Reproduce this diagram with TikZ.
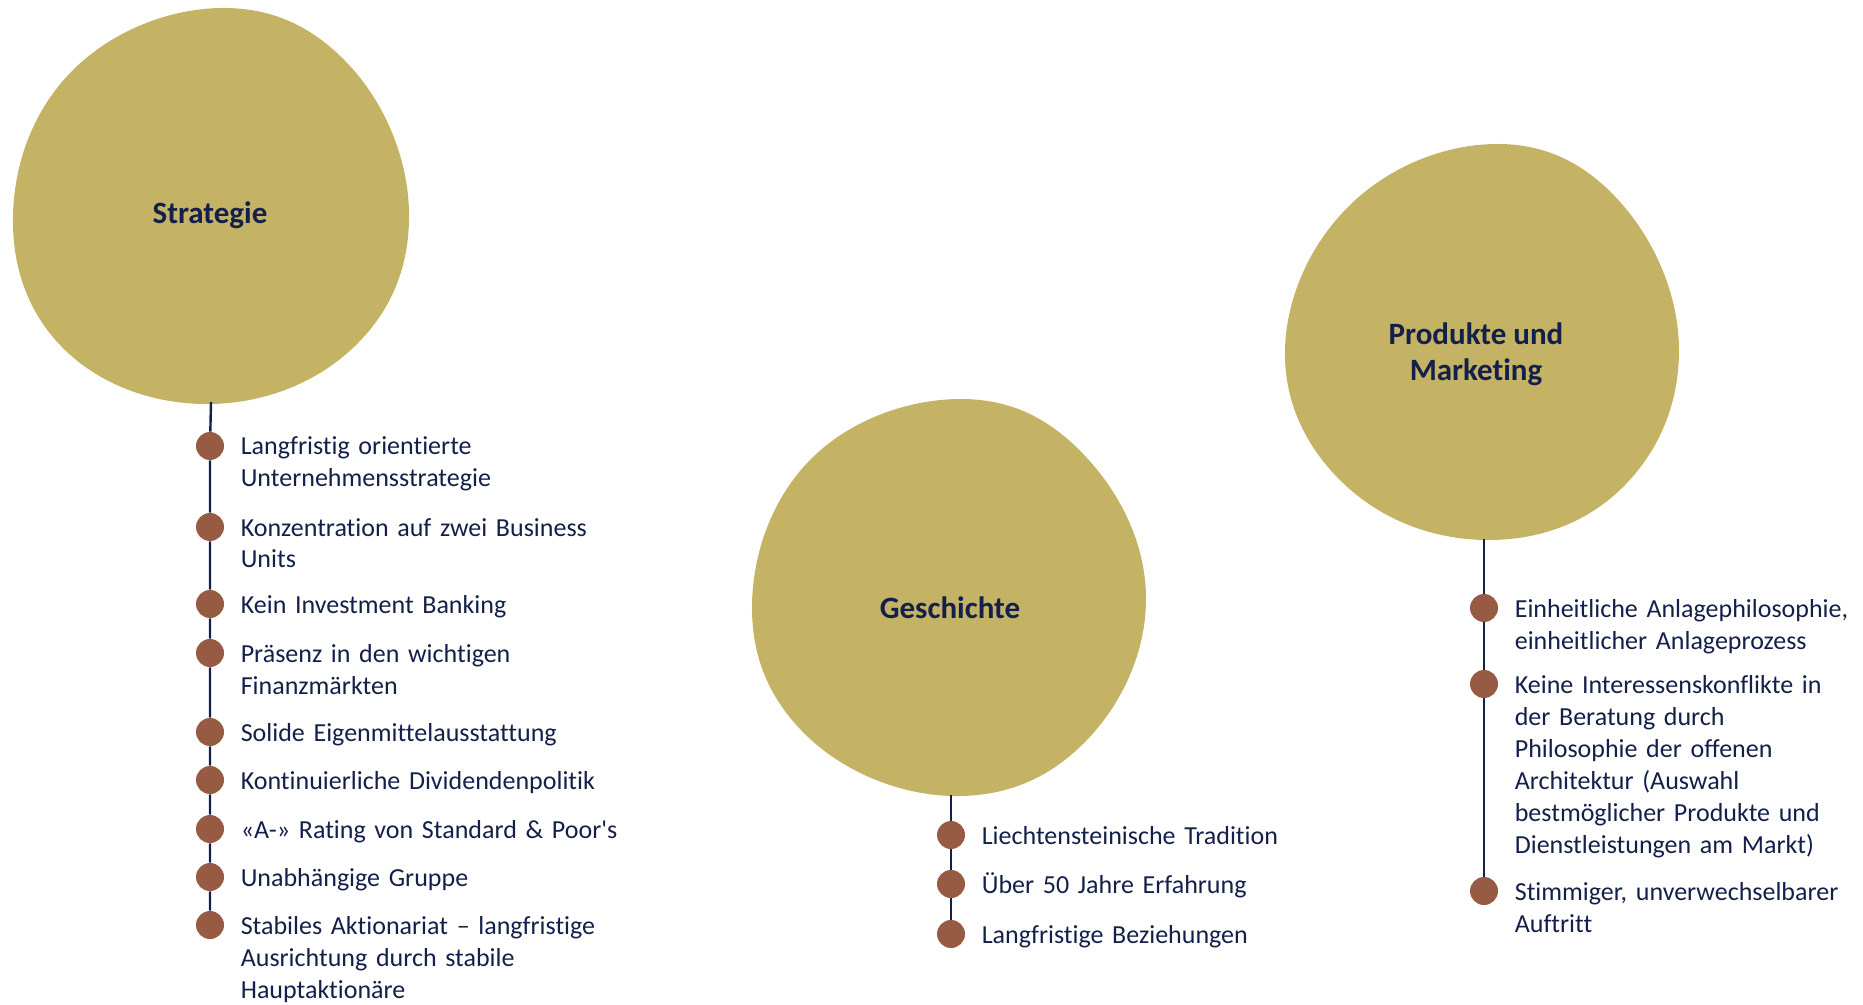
\documentclass[tikz,border=0pt]{standalone}
\usepackage{fontspec}
\setmainfont{Carlito}[Ligatures={TeX,NoCommon}]
\usetikzlibrary{positioning}
\definecolor{goldblob}{HTML}{C4B265}
\definecolor{rustdot}{HTML}{975A43}
\definecolor{navy}{HTML}{14204A}
\tikzset{
    blob/.style = {fill=goldblob, draw=none},
    topic/.style = {font=\fontsize{15.5pt}{18pt}\selectfont\bfseries, text=navy, align=center},
}
\tikzset{
    stem/.style = {draw=navy, line width=1.2pt},
    dot/.style = {circle, fill=rustdot, minimum size=14pt, inner sep=0pt},
    entry/.style = {font=\fontsize{13pt}{16pt}\selectfont, text=navy, text width=230pt,
        align=left, inner sep=0pt, right=8pt of #1, anchor=base west, yshift=-4.5pt},
}

\begin{document}
\begin{tikzpicture}[x=0.5pt, y=-0.5pt]
            \useasboundingbox (0, 0) rectangle (1863, 1005);

            % Strategie
            \fill[blob] plot[smooth cycle, tension=0.68] coordinates {(221, 8) (350, 66) (409, 212)
                (355, 346) (211, 404) (66, 351) (13, 215) (73, 70)};
            \node[topic] (S) at (210, 215) {Strategie};
            \coordinate (S bot) at (211, 402);

            \node[dot] (s1) at (210, 446) {};
            \node[dot] (s2) at (210, 527) {};
            \node[dot] (s3) at (210, 604) {};
            \node[dot] (s4) at (210, 653) {};
            \node[dot] (s5) at (210, 732) {};
            \node[dot] (s6) at (210, 780) {};
            \node[dot] (s7) at (210, 829) {};
            \node[dot] (s8) at (210, 877) {};
            \node[dot] (s9) at (210, 925) {};

            \draw[stem] (S bot) -- (s1) -- (s2) -- (s3) -- (s4) -- (s5) -- (s6) -- (s7) -- (s8) -- (s9);

            \node[entry=s1] {Langfristig orientierte\\Unternehmensstrategie};
            \node[entry=s2] {Konzentration auf zwei Business\\Units};
            \node[entry=s3] {Kein Investment Banking};
            \node[entry=s4] {Präsenz in den wichtigen\\Finanzmärkten};
            \node[entry=s5] {Solide Eigenmittelausstattung};
            \node[entry=s6] {Kontinuierliche Dividendenpolitik};
            \node[entry=s7] {«A-» Rating von Standard \& Poor\textquotesingle s};
            \node[entry=s8] {Unabhängige Gruppe};
            \node[entry=s9] {Stabiles Aktionariat – langfristige\\Ausrichtung durch stabile\\Hauptaktionäre};

            % Geschichte
            \fill[blob] plot[smooth cycle, tension=0.68] coordinates {(961, 399) (1087, 458) (1146, 600)
                (1085, 742) (953, 796) (808, 737) (752, 605) (812, 458)};
            \node[topic] (G) at (950, 608) {Geschichte};
            \coordinate (G bot) at (951, 795);

            \node[dot] (g1) at (951, 835) {};
            \node[dot] (g2) at (951, 884) {};
            \node[dot] (g3) at (951, 934) {};

            \draw[stem] (G bot) -- (g1) -- (g2) -- (g3);

            \node[entry=g1] {Liechtensteinische Tradition};
            \node[entry=g2] {Über 50 Jahre Erfahrung};
            \node[entry=g3] {Langfristige Beziehungen};

            % Produkte und Marketing
            \fill[blob] plot[smooth cycle, tension=0.68] coordinates {(1496, 144) (1621, 203) (1679, 350)
                (1622, 488) (1485, 540) (1344, 484) (1285, 350) (1350, 205)};
            \node[topic] (P) at (1476, 354) {Produkte und\\Marketing};
            \coordinate (P bot) at (1484, 539);

            \node[dot] (p1) at (1484, 608) {};
            \node[dot] (p2) at (1484, 684) {};
            \node[dot] (p3) at (1484, 891) {};

            \draw[stem] (P bot) -- (p1) -- (p2) -- (p3);

            \node[entry=p1] {Einheitliche Anlagephilosophie,\\einheitlicher Anlageprozess};
            \node[entry=p2] {Keine Interessenskonflikte in\\der Beratung durch\\Philosophie der offenen\\Architektur (Auswahl\\bestmöglicher Produkte und\\Dienstleistungen am Markt)};
            \node[entry=p3] {Stimmiger, unverwechselbarer\\Auftritt};
        \end{tikzpicture}
\end{document}
